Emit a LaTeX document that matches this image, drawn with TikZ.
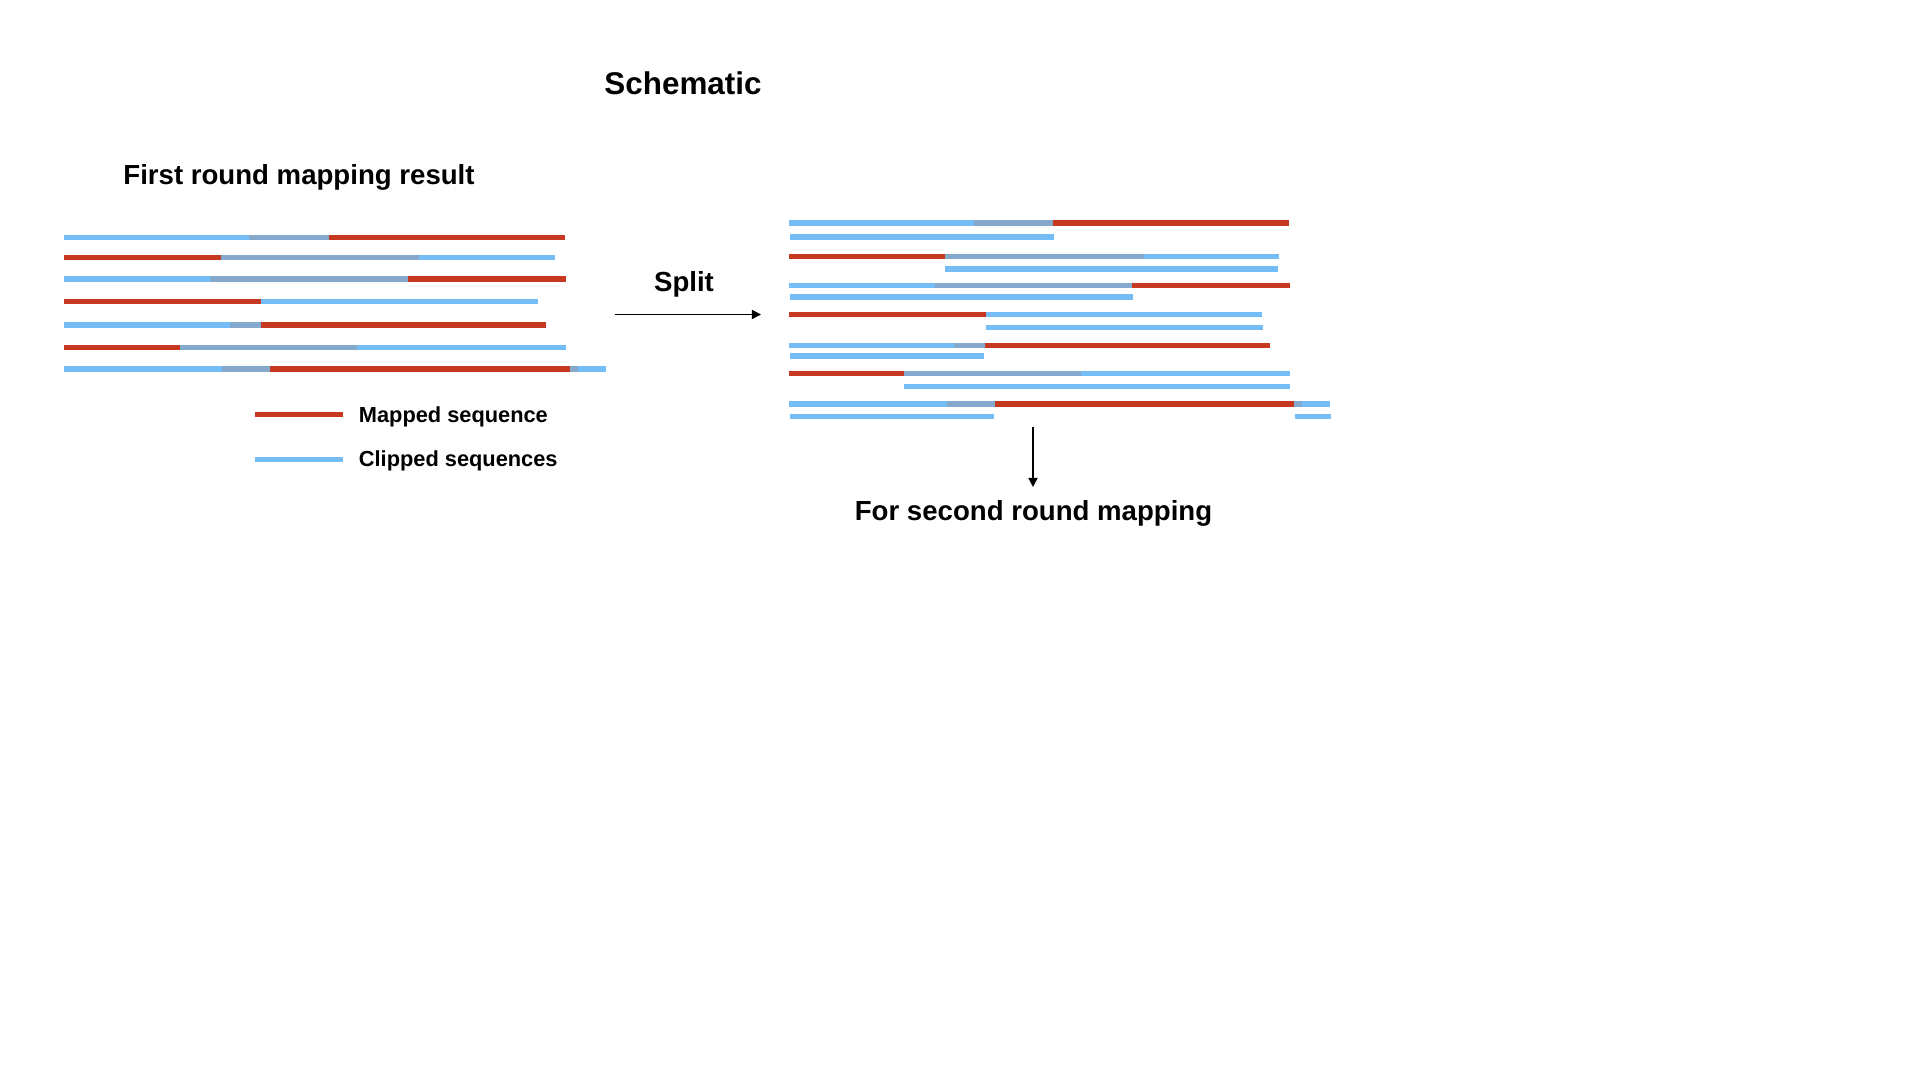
\documentclass[tikz,border=0pt]{standalone}
\usepackage{fontspec}
\setmainfont{Liberation Sans}
\usetikzlibrary{arrows.meta}

\definecolor{mapred}{RGB}{199,56,33}
\definecolor{clipblue}{RGB}{116,189,247}
\definecolor{sharedblue}{RGB}{132,169,205}

\begin{document}
\begin{tikzpicture}[x = 0.5pt, y = -0.5pt,
    mapped/.style = {draw = mapred, line width = 2.6pt},
    clipped/.style = {draw = clipblue, line width = 2.6pt},
    shared/.style = {draw = sharedblue, line width = 2.6pt},
    heading/.style = {inner sep = 0pt, anchor = base, font = \bfseries\fontsize{13.8pt}{16pt}\selectfont},
    legendtext/.style = {inner sep = 0pt, anchor = base west, font = \bfseries\fontsize{10.9pt}{13pt}\selectfont},
    flow/.style = {-{Triangle[length = 4.6pt, width = 4.6pt]}, line width = .75pt}]

        \useasboundingbox (0,0) rectangle (1920,1080);

        \node [heading, font = \bfseries\fontsize{15.7pt}{18pt}\selectfont] (schematic) at (683,95) {Schematic};
        \node [heading] (firstround) at (299,184.5) {First round mapping result};

        % first round reads
        \foreach \y/\ba/\bb/\ra/\rb in {237.5/64/328.5/248.5/565, 257.5/220.5/554.5/64/419, 279/64/408/210/565.5,
                                       301.5/260.5/538/64/260.5, 325/64/260.5/230/546, 347.5/180/565.5/64/357,
                                       369/64/270/222/577.5} {
          \pgfmathsetmacro{\sa}{max(\ba,\ra)}
          \pgfmathsetmacro{\sb}{min(\bb,\rb)}
          \draw [clipped] (\ba,\y) -- (\bb,\y);
          \draw [mapped] (\ra,\y) -- (\rb,\y);
          \draw [shared] (\sa,\y) -- (\sb,\y);
        }
        \draw [clipped] (570,369) -- (605.5,369);
        \draw [shared] (570,369) -- (577.5,369);

        % legend
        \draw [mapped] (255,414.5) -- (343,414.5);
        \draw [clipped] (255,459.5) -- (343,459.5);
        \node [legendtext] (mappedlabel) at (358.5,422.5) {Mapped sequence};
        \node [legendtext] (clippedlabel) at (358.5,466.5) {Clipped sequences};

        % split
        \node [heading] (split) at (684,291.5) {Split};
        \coordinate (splitfrom) at (615,314.5);
        \coordinate (splitto) at (761,314.5);
        \draw [flow] (splitfrom) -- (splitto);

        % reads after splitting
        \foreach \y/\ba/\bb/\ra/\rb/\yy/\ca/\cb in {223/789/1053/973.5/1289/237/789.5/1053.5,
                                                   256.5/945/1279/789/1143.5/269/944.5/1278,
                                                   285.5/789/1132/934.5/1289.5/297/789.5/1132.5,
                                                   314.5/985.5/1262/789/985.5/327.5/986/1262.5,
                                                   345.5/789/985/954/1270/356/789.5/984,
                                                   373.5/904/1290/789/1081/386.5/903.5/1289.5,
                                                   404/789/994.5/946.5/1301.5/416.5/789.5/994} {
          \pgfmathsetmacro{\sa}{max(\ba,\ra)}
          \pgfmathsetmacro{\sb}{min(\bb,\rb)}
          \draw [clipped] (\ba,\y) -- (\bb,\y);
          \draw [mapped] (\ra,\y) -- (\rb,\y);
          \draw [shared] (\sa,\y) -- (\sb,\y);
          \draw [clipped] (\ca,\yy) -- (\cb,\yy);
        }
        \draw [clipped] (1294,404) -- (1330,404);
        \draw [shared] (1294,404) -- (1301.5,404);
        \draw [clipped] (1295,416.5) -- (1331,416.5);

        % second round
        \coordinate (downfrom) at (1033,427);
        \coordinate (downto) at (1033,487);
        \draw [flow] (downfrom) -- (downto);
        \node [heading] (secondround) at (1033.5,520) {For second round mapping};

\end{tikzpicture}
\end{document}
